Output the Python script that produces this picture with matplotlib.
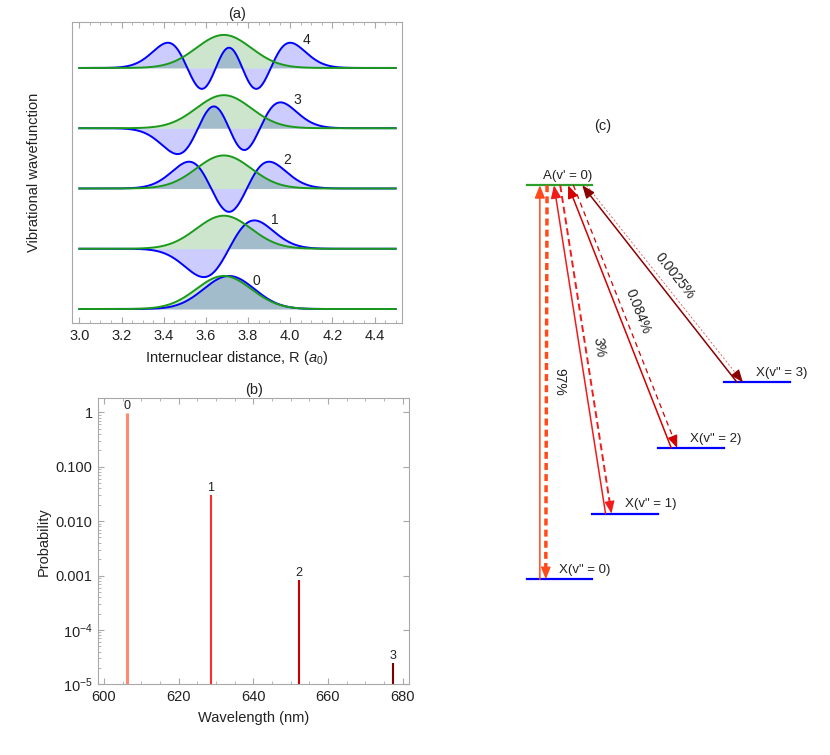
import numpy as np
import matplotlib
matplotlib.use('Agg')
from matplotlib import pyplot as plt
from numpy.polynomial import hermite
from math import factorial, pi

plt.rcParams['font.family'] = ['Liberation Sans', 'DejaVu Sans']
plt.rcParams['mathtext.fontset'] = 'custom'
plt.rcParams['mathtext.rm'] = 'Liberation Sans'
plt.rcParams['mathtext.it'] = 'Liberation Sans:italic'
plt.rcParams['font.size'] = 9.5

# --- data -------------------------------------------------------------
# (a) vibrational wavefunctions (harmonic approximation)
levels = [0, 1, 2, 3, 4]
Re_X, alpha_X = 3.71, 0.12     # ground state X: centre, width (a0)
Re_A, alpha_A = 3.685, 0.13    # excited state A(v'=0)
R_min, R_max = 3.0, 4.5

# (b) / (c) branching ratios A(v'=0) -> X(v'')
v_final = [0, 1, 2, 3]
wavelength = [606.3, 628.6, 652.2, 677.4]
prob = [0.97, 0.03, 0.00084, 0.000025]
line_colors = ['#ff8a70', '#ff2a2a', '#c80000', '#800000']
arrow_colors = ['#ff4a1c', '#f21b1b', '#d40000', '#8b0000']

gray = '#a8a8a8'
txt = '#222222'


def psi(v, R, Re, a):
    xi = (R - Re) / a
    c = np.zeros(v + 1)
    c[v] = 1
    norm = 1.0 / np.sqrt(2.0**v * factorial(v) * np.sqrt(pi))
    return norm * hermite.hermval(xi, c) * np.exp(-xi**2 / 2)


def frame_style(ax):
    for s in ax.spines.values():
        s.set_color(gray)
    ax.tick_params(which='both', direction='in', color=gray, labelcolor=txt,
                   top=True, labelsize=10.5, pad=4)
    ax.tick_params(which='major', length=4)
    ax.tick_params(which='minor', length=2)


fig = plt.figure(figsize=(8.3, 7.55), dpi=100)

# --- (a) --------------------------------------------------------------
ax = fig.add_axes([0.0867, 0.5722, 0.3976, 0.3987])
R = np.linspace(R_min, R_max, 600)
scale = 0.73
g = psi(0, R, Re_A, alpha_A) * scale
for v in levels:
    b = psi(v, R, Re_X, alpha_X) * scale
    ax.fill_between(R, v, v + b, color='blue', alpha=0.2, lw=0)
    ax.fill_between(R, v, v + g, color='green', alpha=0.2, lw=0)
    ax.plot(R, v + b, color='blue', lw=1.4)
    ax.plot(R, v + g, color='#1a9a1a', lw=1.4)
    ax.text(Re_X + alpha_X * np.sqrt(2 * v + 1) - 0.01, v + 0.47, str(v),
            ha='left', va='center', color=txt, fontsize=10)
ax.set_xlim(2.965, 4.53)
ax.set_ylim(-0.232, 4.763)
ax.set_xticks(np.arange(3.0, 4.41, 0.2))
ax.set_xticks(np.arange(3.0, 4.51, 0.05), minor=True)
ax.set_yticks([])
frame_style(ax)
ax.set_xlabel(r'Internuclear distance, R ($a_0$)', color=txt, fontsize=10.5,
              labelpad=5)
ax.set_ylabel('Vibrational wavefunction', color=txt, fontsize=10.5, labelpad=22)
ax.set_title('(a)', color=txt, fontsize=10.5, pad=3)

# --- (b) --------------------------------------------------------------
bx = fig.add_axes([0.1184, 0.0936, 0.3747, 0.3789])
for v, wl, p, c in zip(v_final, wavelength, prob, line_colors):
    bx.vlines(wl, 1e-5, p, color=c, lw=2.2 if v == 0 else 1.5)
    bx.annotate(str(v), (wl, p), xytext=(0, 0.5), textcoords='offset points',
                ha='center', va='bottom', fontsize=9, color=txt)
bx.set_yscale('log')
bx.set_xlim(598.5, 681.8)
bx.set_ylim(1e-5, 1.81)
bx.set_xticks([600, 620, 640, 660, 680])
bx.set_xticks(np.arange(600, 681, 5), minor=True)
bx.set_yticks([1e-5, 1e-4, 1e-3, 1e-2, 1e-1, 1])
bx.set_yticklabels([r'$10^{-5}$', r'$10^{-4}$', '0.001', '0.010', '0.100', '1'])
frame_style(bx)
bx.tick_params(right=True)
bx.set_xlabel('Wavelength (nm)', color=txt, fontsize=10.5, labelpad=5)
bx.set_ylabel('Probability', color=txt, fontsize=10.5)
bx.set_title('(b)', color=txt, fontsize=10.5, pad=3)

# --- (c) --------------------------------------------------------------
cx = fig.add_axes([0.5783, 0.1788, 0.4217, 0.6887])
cx.set_xlim(-0.711, 4.616)
cx.set_ylim(-0.62, 7.297)
cx.axis('off')
E_A = 6.0
cx.plot([0, 1], [E_A, E_A], color='#2aa02a', lw=1.6)
cx.text(0.25, E_A + 0.14, "A(v' = 0)", ha='left', va='center', color=txt)

styles = [(2.5, (2.0, 1.2)), (1.4, (3.6, 2.0)), (0.9, (4.2, 3.3)), (0.6, (2.4, 2.4))]
head = '-|>,head_length=0.55,head_width=0.22'
for n, p, c in zip(v_final, prob, arrow_colors):
    cx.plot([n, n + 1], [n, n], color='blue', lw=1.6)
    cx.text(n + 0.49, n + 0.14, 'X(v" = %d)' % n, ha='left', va='center', color=txt)
    # solid arrow up to A
    x_top = 0.2 + 0.215 * n
    cx.annotate('', xy=(x_top, E_A), xytext=(n + 0.2, n),
                arrowprops=dict(arrowstyle=head, color=c, lw=1.1,
                                shrinkA=0, shrinkB=0, mutation_scale=14))
    # dashed arrow down to X(v'')
    lw, dash = styles[n]
    x0, y0 = 0.31 + 0.2 * n, E_A
    x1, y1 = n + 0.29, n
    d = np.array([x1 - x0, y1 - y0])
    u = d / np.hypot(*d)
    hb = np.array([x1, y1]) - 0.14 * u
    dc = '#e05555' if n == 3 else c
    cx.plot([x0, hb[0]], [y0, hb[1]], color=dc, lw=lw, dashes=dash)
    cx.annotate('', xy=(x1, y1), xytext=tuple(hb),
                arrowprops=dict(arrowstyle=head, color=c, lw=0.8,
                                shrinkA=0, shrinkB=0, mutation_scale=14))
    # percentage label
    ang = np.degrees(np.arctan2(d[1], d[0]))
    perp = np.array([-u[1], u[0]])
    if perp[0] < 0:
        perp = -perp
    mid = np.array([(x0 + x1) / 2, (y0 + y1) / 2]) + 0.2 * perp
    cx.text(mid[0], mid[1], f'{p * 100:g}%', rotation=ang, ha='center',
            va='center', rotation_mode='anchor', color=txt, fontsize=10)

fig.text(603 / 830, 1 - 126 / 755, '(c)', ha='center', va='center',
         color=txt, fontsize=10.5)

fig.savefig('out.png', dpi=100)
